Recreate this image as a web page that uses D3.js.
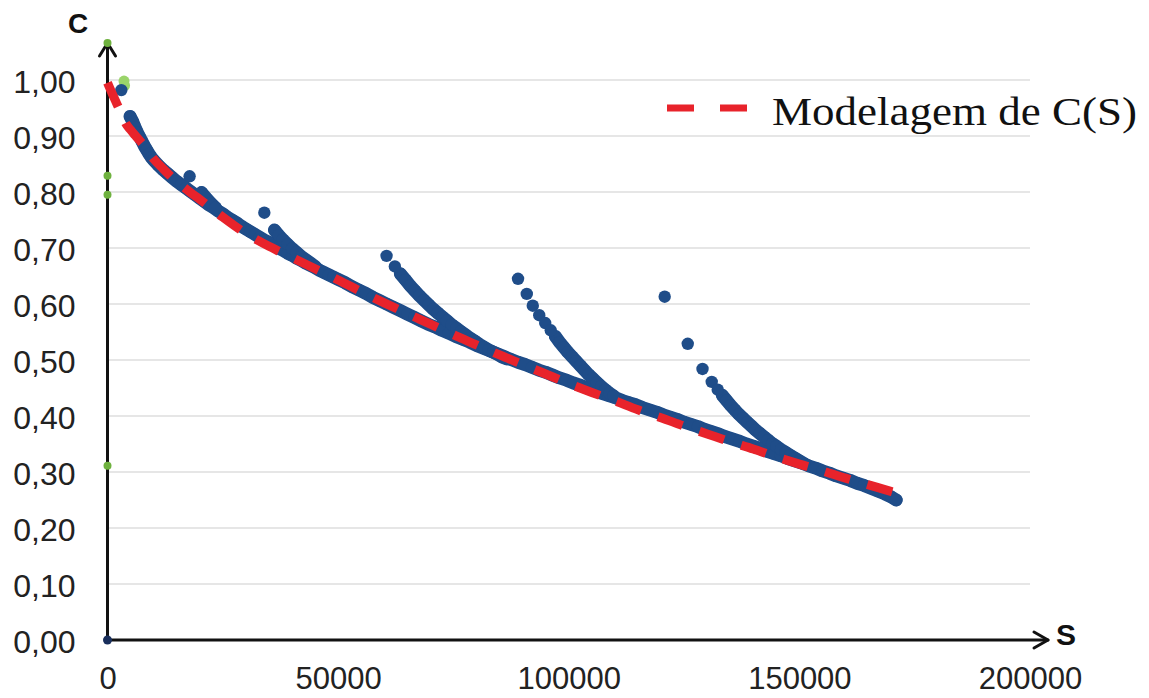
<!DOCTYPE html>
<html>
<head>
<meta charset="utf-8">
<script src="https://cdn.jsdelivr.net/npm/d3@7"></script>
<style>
  html, body { margin: 0; padding: 0; background: #ffffff; }
  svg { display: block; }
</style>
</head>
<body>
<svg id="chart" width="1149" height="698"></svg>
<script>
// ---- axis ticks ----
const xTicks = [0, 50000, 100000, 150000, 200000];
const yTicks = [0, 0.1, 0.2, 0.3, 0.4, 0.5, 0.6, 0.7, 0.8, 0.9, 1.0];

// ---- measured C(S) : main decay trace [S, C] ----
const mainDots = [[3000, 0.982]];
const mainTrail = [
  [4900,0.935],[5500,0.925],[6000,0.915],[6500,0.906],[7000,0.898],[7500,0.890],[8000,0.882],
  [8500,0.875],[9000,0.868],[9500,0.862],[10000,0.857],[11000,0.848],[12000,0.840],[13000,0.833],
  [14000,0.826],[15000,0.819],[16000,0.813],[17000,0.807],[18000,0.801],[19000,0.795],[20000,0.789],
  [21000,0.783],[22000,0.777],[23000,0.772],[24000,0.766],[25000,0.761],[26000,0.755],[27000,0.750],
  [28000,0.745],[29000,0.739],[30000,0.734],[31000,0.729],[32000,0.724],[33000,0.719],[34000,0.714],
  [35000,0.710],[36000,0.705],[37000,0.700],[38000,0.696],[39000,0.691],[40000,0.687],[41000,0.682],
  [42000,0.678],[43000,0.673],[44000,0.669],[45000,0.665],[46000,0.660],[47000,0.656],[48000,0.652],
  [49000,0.648],[50000,0.644],[51500,0.638],[53000,0.631],[54500,0.625],[56000,0.619],[57500,0.612],
  [59000,0.606],[60500,0.600],[62000,0.594],[63500,0.588],[65000,0.582],[66500,0.576],[68000,0.570],
  [69500,0.564],[71000,0.559],[72500,0.553],[74000,0.548],[75500,0.542],[77000,0.537],[78500,0.532],
  [80000,0.526],[81500,0.521],[83000,0.516],[84500,0.511],[86000,0.506],[87500,0.501],[89000,0.496],
  [90500,0.492],[92000,0.487],[93500,0.482],[95000,0.478],[96500,0.473],[98000,0.468],[99500,0.464],
  [101000,0.459],[102500,0.455],[104000,0.450],[105500,0.446],[107000,0.441],[108500,0.437],
  [110000,0.433],[111500,0.428],[113000,0.424],[114500,0.420],[116000,0.415],[117500,0.411],
  [119000,0.407],[120500,0.402],[122000,0.398],[123500,0.394],[125000,0.389],[126500,0.385],
  [128000,0.381],[129500,0.376],[131000,0.372],[132500,0.368],[134000,0.363],[135500,0.359],
  [137000,0.355],[138500,0.350],[140000,0.346],[141500,0.342],[143000,0.337],[144500,0.333],
  [146000,0.329],[147500,0.324],[149000,0.320],[150500,0.316],[152000,0.311],[153500,0.307],
  [155000,0.302],[156500,0.298],[158000,0.293],[159500,0.289],[161000,0.285],[162500,0.280],
  [164000,0.276],[165500,0.271],[167000,0.266],[168500,0.261],[170000,0.255],[171000,0.250]
];

// ---- restarts of the trace ----
const branch1Dots = [[17800, 0.828]];
const branch1Trail = [[20400,0.799],[21400,0.789],[22400,0.780],[23400,0.772]];

const branch2Dots = [[34000, 0.763]];
const branch2Trail = [
  [36200,0.732],[37100,0.723],[38000,0.715],[39000,0.707],[40000,0.699],[41000,0.692],
  [42000,0.685],[43000,0.679],[44000,0.673],[45000,0.667]
];

const branch3Dots = [[60500, 0.686], [62300, 0.667]];
const branch3Trail = [
  [63500,0.654],[64600,0.643],[65600,0.633],[66600,0.624],[67600,0.615],[68600,0.607],
  [69600,0.599],[70600,0.591],[71600,0.584],[72600,0.577],[73600,0.570],[74600,0.563],
  [75600,0.557],[76600,0.551],[77600,0.545],[78600,0.539],[79600,0.534],[80600,0.528],
  [81600,0.523],[82600,0.518],[83600,0.514],[84600,0.510],[85600,0.505],[86600,0.502]
];

const branch4Dots = [[89000,0.645],[90900,0.618],[92200,0.597],[93600,0.580],[94900,0.566],[96100,0.553]];
const branch4Trail = [
  [97100,0.542],[98000,0.532],[98900,0.523],[99800,0.514],[100700,0.506],[101600,0.498],
  [102500,0.490],[103400,0.482],[104300,0.474],[105200,0.467],[106100,0.460],[107000,0.453],
  [107900,0.447],[108800,0.441],[109700,0.436]
];

const branch5Dots = [[120800,0.613],[125800,0.529],[129000,0.484],[131000,0.461],[132300,0.447]];
const branch5Trail = [
  [133300,0.437],[134200,0.428],[135100,0.419],[136000,0.411],[136900,0.403],[137800,0.396],
  [138700,0.389],[139600,0.382],[140500,0.375],[141400,0.369],[142300,0.363],[143200,0.357],
  [144100,0.351],[145000,0.346],[146000,0.340],[147000,0.335],[148000,0.330],[149000,0.325],
  [150000,0.320],[151000,0.315]
];

// ---- early readings (green) and origin point ----
const earlyAxis = [[0,1.066],[0,0.829],[0,0.795],[0,0.311]];
const earlyTop = [[3580,0.998],[3700,0.990]];
const originPoint = [[0, 0]];

// ---- fitted model C(S) ----
const modelCurve = [
  [0,0.995],[1000,0.976],[2000,0.958],[3000,0.940],[4000,0.922],[5000,0.911],[6000,0.901],
  [8000,0.882],[10000,0.859],[12000,0.842],[14000,0.826],[16000,0.812],[18000,0.799],
  [20000,0.787],[22500,0.771],[25000,0.755],[27500,0.740],[30000,0.726],[32500,0.714],
  [35000,0.703],[37500,0.693],[40000,0.683],[45000,0.663],[50000,0.643],[55000,0.622],
  [60000,0.602],[65000,0.583],[70000,0.564],[75000,0.545],[80000,0.527],[85000,0.509],
  [90000,0.492],[95000,0.475],[100000,0.458],[105000,0.442],[110000,0.427],[115000,0.411],
  [120000,0.397],[125000,0.382],[130000,0.368],[135000,0.354],[140000,0.341],[145000,0.327],
  [150000,0.314],[155000,0.302],[160000,0.289],[165000,0.277],[170000,0.265],[173000,0.258]
];

const legendLabel = "Modelagem de C(S)";

// ---- drawing ----
const BLUE = "#1f4d89";
const RED = "#e8232b";
const svg = d3.select("#chart");

const x = d3.scaleLinear().domain([0, 200000]).range([107.5, 1030]);
const y = d3.scaleLinear().domain([0, 1]).range([640, 80]);

// horizontal gridlines
svg.append("g")
  .selectAll("line")
  .data(yTicks.filter(d => d > 0))
  .join("line")
  .attr("x1", x(0)).attr("x2", x(200000))
  .attr("y1", d => y(d)).attr("y2", d => y(d))
  .attr("stroke", "#e6e6e6").attr("stroke-width", 2);

// tick labels
const ptBR = d3.formatLocale({ decimal: ",", thousands: ".", grouping: [3], currency: ["", ""] });
const fmtY = ptBR.format(".2f");

const yAxis = svg.append("g")
  .attr("transform", `translate(${x(0)},0)`)
  .call(d3.axisLeft(y).tickValues(yTicks).tickSize(0).tickPadding(32).tickFormat(fmtY));
yAxis.select(".domain").remove();
yAxis.selectAll("text")
  .attr("font-size", 32).attr("font-family", "'Liberation Sans', Arial, sans-serif")
  .attr("fill", "#222").attr("dy", "0.40em");

const xAxis = svg.append("g")
  .attr("transform", `translate(0,${y(0)})`)
  .call(d3.axisBottom(x).tickValues(xTicks).tickSize(0).tickPadding(27).tickFormat(d3.format("d")));
xAxis.select(".domain").remove();
xAxis.selectAll("text")
  .attr("font-size", 31).attr("font-family", "'Liberation Sans', Arial, sans-serif")
  .attr("fill", "#222");

// axis lines with arrow heads
const axisG = svg.append("g").attr("stroke", "#111").attr("stroke-width", 3)
  .attr("fill", "none").attr("stroke-linecap", "round").attr("stroke-linejoin", "round");
axisG.append("path").attr("d", d3.line()([[x(0), y(0)], [x(0), 43]]));
axisG.append("path").attr("d", d3.line()([[x(0) - 8, 56], [x(0), 43], [x(0) + 8, 56]]));
axisG.append("path").attr("d", d3.line()([[x(0), y(0)], [1048, y(0)]]));
axisG.append("path").attr("d", d3.line()([[1034, y(0) - 8], [1048, y(0)], [1034, y(0) + 8]]));

svg.append("text").text("C")
  .attr("x", 78).attr("y", 33).attr("text-anchor", "middle")
  .attr("font-size", 28).attr("font-weight", "bold")
  .attr("font-family", "'Liberation Sans', Arial, sans-serif").attr("fill", "#111");
svg.append("text").text("S")
  .attr("x", 1056).attr("y", 645)
  .attr("font-size", 30).attr("font-weight", "bold")
  .attr("font-family", "'Liberation Sans', Arial, sans-serif").attr("fill", "#111");

// early readings (green)
svg.append("g").selectAll("circle").data(earlyAxis).join("circle")
  .attr("cx", d => x(d[0])).attr("cy", d => y(d[1])).attr("r", 4)
  .attr("fill", "#6fb23f");
svg.append("g").selectAll("circle").data(earlyTop).join("circle")
  .attr("cx", d => x(d[0])).attr("cy", d => y(d[1])).attr("r", 5.5)
  .attr("fill", "#9ad46a");

// measured trace: dense runs drawn as a continuous band with markers on it
const trace = d3.line().x(d => x(d[0])).y(d => y(d[1]));
const trails = [mainTrail, branch1Trail, branch2Trail, branch3Trail, branch4Trail, branch5Trail];
const dots = [mainDots, branch1Dots, branch2Dots, branch3Dots, branch4Dots, branch5Dots];

const measured = svg.append("g");
measured.selectAll("path.band").data(trails).join("path")
  .attr("class", "band")
  .attr("d", trace)
  .attr("fill", "none").attr("stroke", BLUE).attr("stroke-width", 13)
  .attr("stroke-linecap", "round").attr("stroke-linejoin", "round");
measured.selectAll("circle").data(trails.flat().concat(dots.flat())).join("circle")
  .attr("cx", d => x(d[0])).attr("cy", d => y(d[1])).attr("r", 6.2)
  .attr("fill", BLUE);

svg.append("g").selectAll("circle").data(originPoint).join("circle")
  .attr("cx", d => x(d[0])).attr("cy", d => y(d[1])).attr("r", 4.5)
  .attr("fill", "#1a2f5c");

// fitted model, dashed
svg.append("path")
  .datum(modelCurve)
  .attr("d", d3.line().x(d => x(d[0])).y(d => y(d[1])).curve(d3.curveMonotoneX))
  .attr("fill", "none").attr("stroke", RED).attr("stroke-width", 9)
  .attr("stroke-dasharray", "26,18");

// legend
const legend = svg.append("g");
legend.append("line")
  .attr("x1", 667).attr("x2", 750).attr("y1", 108).attr("y2", 108)
  .attr("stroke", RED).attr("stroke-width", 7).attr("stroke-dasharray", "27,26");
legend.append("text").text(legendLabel)
  .attr("x", 772).attr("y", 125)
  .attr("font-size", 41).attr("font-family", "'Liberation Serif', 'Times New Roman', serif")
  .attr("fill", "#111")
  .attr("textLength", 365).attr("lengthAdjust", "spacingAndGlyphs");
</script>
</body>
</html>
